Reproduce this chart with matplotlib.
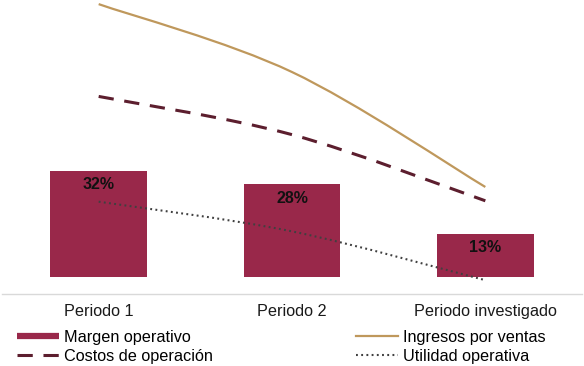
import matplotlib.pyplot as plt
import numpy as np
from matplotlib.path import Path
from matplotlib.patches import PathPatch
from matplotlib.lines import Line2D

plt.rcParams['font.family'] = ['Liberation Sans', 'DejaVu Sans']

periodos = ['Periodo 1', 'Periodo 2', 'Periodo investigado']
margen = [32, 28, 13]                 # %
ingresos = [98.6, 75.5, 36.4]          # indice
costos = [67.2, 54.2, 31.7]
utilidad = [31.4, 21.3, 4.7]

c_bar = '#99284A'
c_ing = '#BF985C'
c_cos = '#5C1E2E'
c_uti = '#404040'


def smooth_path(xs, ys):
    # curva bezier estilo "linea suavizada" de Excel
    pts = np.column_stack([xs, ys]).astype(float)
    n = len(pts)
    verts = [pts[0]]
    codes = [Path.MOVETO]
    for i in range(n - 1):
        p0 = pts[max(i - 1, 0)]
        p1 = pts[i]
        p2 = pts[i + 1]
        p3 = pts[min(i + 2, n - 1)]
        verts += [p1 + (p2 - p0) / 6, p2 - (p3 - p1) / 6, p2]
        codes += [Path.CURVE4] * 3
    return Path(verts, codes)


fig = plt.figure(figsize=(5.84, 3.66), dpi=100)
ax = fig.add_axes([2 / 584, 72 / 366, 580 / 584, 294 / 366])
x = np.arange(len(periodos))

bars = ax.bar(x, margen, width=0.5, color=c_bar, zorder=2)
for xi, v in zip(x, margen):
    ax.annotate(f'{v}%', (xi, v), xytext=(0, -10), textcoords='offset points',
                ha='center', va='center', fontsize=11.5, fontweight='bold', color='#111111')

ax.set_xlim(-0.5, 2.5)
ax.set_ylim(-5.14, 83.7)
ax.set_xticks(x)
ax.set_xticklabels(periodos, fontsize=11.7, color='#1a1a1a')
ax.tick_params(axis='x', length=0, pad=7.5)
ax.set_yticks([])
for s in ['top', 'left', 'right']:
    ax.spines[s].set_visible(False)
ax.spines['bottom'].set_color('#D9D9D9')
ax.spines['bottom'].set_linewidth(1)

ax2 = ax.twinx()
ax2.set_ylim(0, 100)
ax2.set_yticks([])
for s in ax2.spines.values():
    s.set_visible(False)

ax2.add_patch(PathPatch(smooth_path(x, ingresos), fill=False, edgecolor=c_ing,
                        lw=1.6, capstyle='butt'))
ax2.add_patch(PathPatch(smooth_path(x, costos), fill=False, edgecolor=c_cos,
                        lw=2.2, linestyle=(0, (5, 3.5)), capstyle='butt'))
ax2.add_patch(PathPatch(smooth_path(x, utilidad), fill=False, edgecolor=c_uti,
                        lw=1.5, linestyle=(0, (0.9, 1.6)), capstyle='butt'))

handles = [
    Line2D([], [], color=c_bar, lw=4.5, solid_capstyle='butt'),
    Line2D([], [], color=c_cos, lw=2.2, linestyle=(0, (5, 3.5))),
    Line2D([], [], color=c_ing, lw=1.6),
    Line2D([], [], color=c_uti, lw=1.5, linestyle=(0, (0.9, 1.6))),
]
labels = ['Margen operativo', 'Costos de operación', 'Ingresos por ventas', 'Utilidad operativa']
fig.legend(handles, labels, ncol=2, loc='upper left', bbox_to_anchor=(17 / 584, 1 - 330 / 366),
           frameon=False, fontsize=11.7, handlelength=2.6, handletextpad=0.3,
           columnspacing=8.8, labelspacing=0.25, borderpad=0, borderaxespad=0)

fig.savefig('out.png', dpi=100)
